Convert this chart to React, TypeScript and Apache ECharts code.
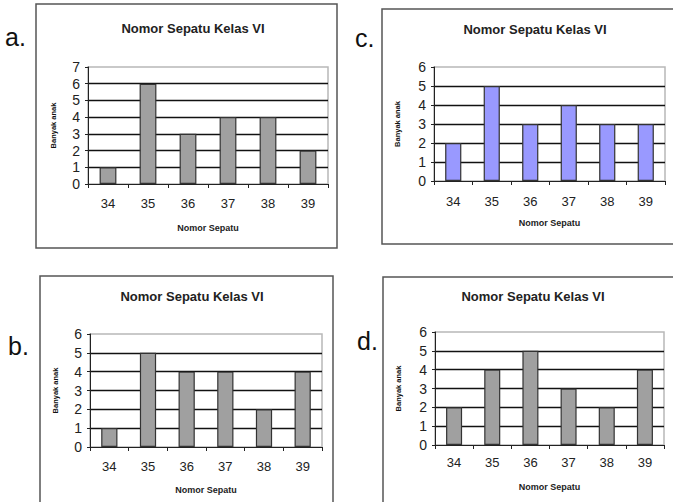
import React, { useEffect, useRef } from "react";
import * as echarts from "echarts";

const categories = ["34", "35", "36", "37", "38", "39"];
const valuesA = [1, 6, 3, 4, 4, 2];
const valuesB = [1, 5, 4, 4, 2, 4];
const valuesC = [2, 5, 3, 4, 3, 3];
const valuesD = [2, 4, 5, 3, 2, 4];
const panelLabels = ["a.", "b.", "c.", "d."];
const chartTitle = "Nomor Sepatu Kelas VI";
const xName = "Nomor Sepatu";
const yName = "Banyak anak";

const FONT = "'Liberation Sans', Arial, sans-serif";

type Panel = {
  label: string;
  values: number[];
  max: number;
  color: string;
  grid: { left: number; top: number; width: number; height: number };
  box: { x: number; y: number; w: number; h: number };
  labelPos: [number, number];
  titleX: number;
  titleY: number;
  xLabelMargin: number;
  xNameGap: number;
  yNameGap: number;
};

const panels: Panel[] = [
  {
    label: panelLabels[0], values: valuesA, max: 7, color: "#a0a0a0",
    grid: { left: 88, top: 67, width: 240, height: 117 },
    box: { x: 36, y: 4, w: 301, h: 244 }, labelPos: [5, 37],
    titleX: 188, titleY: 25, xLabelMargin: 13, xNameGap: 39, yNameGap: 31,
  },
  {
    label: panelLabels[1], values: valuesB, max: 6, color: "#a0a0a0",
    grid: { left: 90, top: 334, width: 232, height: 113 },
    box: { x: 40, y: 276, w: 293, h: 240 }, labelPos: [8, 346],
    titleX: 187, titleY: 293, xLabelMargin: 13, xNameGap: 38, yNameGap: 31,
  },
  {
    label: panelLabels[2], values: valuesC, max: 6, color: "#9999ff",
    grid: { left: 434, top: 67, width: 231, height: 114 },
    box: { x: 382, y: 9, w: 300, h: 235 }, labelPos: [355, 38],
    titleX: 530, titleY: 26, xLabelMargin: 14, xNameGap: 37, yNameGap: 33,
  },
  {
    label: panelLabels[3], values: valuesD, max: 6, color: "#a0a0a0",
    grid: { left: 435, top: 332, width: 229, height: 113 },
    box: { x: 383, y: 277, w: 300, h: 240 }, labelPos: [357, 341],
    titleX: 528, titleY: 293, xLabelMargin: 11, xNameGap: 37, yNameGap: 33,
  },
];

export default function App() {
  const ref = useRef<HTMLDivElement>(null);

  useEffect(() => {
    if (!ref.current) return;
    const chart = echarts.init(ref.current, undefined, { renderer: "svg" });

    const option: any = {
      animation: false,
      backgroundColor: "#ffffff",
      textStyle: { fontFamily: FONT },
      title: panels.map((p) => ({
        text: chartTitle,
        left: p.titleX,
        top: p.titleY - 8,
        textAlign: "center",
        textStyle: { fontSize: 13, fontWeight: "bold", color: "#222", fontFamily: FONT },
      })),
      grid: panels.map((p) => ({
        left: p.grid.left,
        top: p.grid.top,
        width: p.grid.width,
        height: p.grid.height,
        show: true,
        borderColor: "#b8b8b8",
        borderWidth: 1.5,
        backgroundColor: "transparent",
      })),
      xAxis: panels.map((p, i) => ({
        type: "category",
        gridIndex: i,
        data: categories,
        boundaryGap: true,
        axisLine: { lineStyle: { color: "#222", width: 1 } },
        axisTick: { show: true, alignWithLabel: false, length: 4, lineStyle: { color: "#222" } },
        axisLabel: { color: "#222", fontSize: 13, margin: p.xLabelMargin, fontFamily: FONT },
        name: xName,
        nameLocation: "middle",
        nameGap: p.xNameGap,
        nameTextStyle: { fontSize: 9, fontWeight: "bold", color: "#222", fontFamily: FONT },
        splitLine: { show: false },
      })),
      yAxis: panels.map((p, i) => ({
        type: "value",
        gridIndex: i,
        min: 0,
        max: p.max,
        interval: 1,
        axisLine: { show: true, lineStyle: { color: "#222", width: 1 } },
        axisTick: { show: true, length: 3, lineStyle: { color: "#222" } },
        axisLabel: { color: "#222", fontSize: 14, margin: 8, fontFamily: FONT },
        splitLine: {
          show: true,
          showMinLine: false,
          showMaxLine: false,
          lineStyle: { color: "#111", width: 1.3 },
        },
        name: yName,
        nameLocation: "middle",
        nameGap: p.yNameGap,
        nameRotate: 90,
        nameTextStyle: { fontSize: 7.5, fontWeight: "bold", color: "#111", fontFamily: FONT },
      })),
      series: panels.map((p, i) => ({
        type: "bar",
        xAxisIndex: i,
        yAxisIndex: i,
        data: p.values,
        barWidth: "42%",
        itemStyle: { color: p.color, borderColor: "#333", borderWidth: 1.2 },
        z: 3,
      })),
      graphic: [
        ...panels.map((p) => ({
          type: "rect",
          silent: true,
          shape: { x: p.box.x, y: p.box.y, width: p.box.w, height: p.box.h },
          style: { fill: "none", stroke: "#555", lineWidth: 1.5 },
          z: -1,
        })),
        ...panels.map((p) => ({
          type: "text",
          silent: true,
          x: p.labelPos[0],
          y: p.labelPos[1],
          style: {
            text: p.label,
            fontSize: 25,
            fontFamily: FONT,
            fill: "#111",
            textVerticalAlign: "middle",
          },
        })),
      ],
    };

    chart.setOption(option);
    return () => chart.dispose();
  }, []);

  return (
    <div
      ref={ref}
      style={{ position: "fixed", left: 0, top: 0, width: 673, height: 502 }}
    />
  );
}
